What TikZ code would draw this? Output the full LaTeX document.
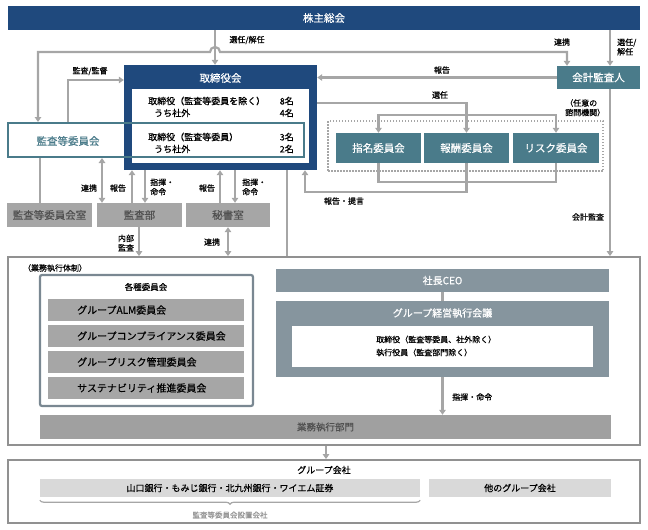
\documentclass[tikz,border=0pt]{standalone}
\usepackage{fontspec}
\setmainfont{Noto Sans CJK JP}[FakeBold=0.6]
\usetikzlibrary{arrows.meta,decorations.pathreplacing}
\definecolor{navy}{RGB}{31,73,125}
\definecolor{tealc}{RGB}{74,123,138}
\definecolor{linegray}{RGB}{166,166,166}
\definecolor{boxgray}{RGB}{166,166,166}
\definecolor{deptgray}{RGB}{160,160,160}
\definecolor{slate}{RGB}{134,149,158}
\definecolor{slateframe}{RGB}{122,136,146}
\definecolor{framegray}{RGB}{145,145,145}
\definecolor{palegray}{RGB}{217,217,217}
\definecolor{darktext}{RGB}{80,80,80}
\begin{document}
\begin{tikzpicture}[
    x=1pt, y=-1pt,
    >={Triangle[width=6.5pt,length=5pt]},
    conn/.style={draw=linegray, line width=2.2pt},
    lbl/.style={font=\fontsize{8}{9.5}\selectfont, inner sep=0pt, align=left},
    txt/.style={font=\fontsize{9}{11}\selectfont, inner sep=0pt},
    solid box/.style={rectangle, fill=#1, inner sep=0pt, text=white, font=\fontsize{10.5}{12}\selectfont},
    graybox/.style={rectangle, fill=boxgray, inner sep=0pt, text=darktext, font=\fontsize{10.5}{12}\selectfont, minimum height=24pt},
    cmtbar/.style={rectangle, fill=boxgray, inner sep=0pt, minimum width=196pt, minimum height=22pt},
    frame/.style={rectangle, draw=framegray, line width=1.8pt, inner sep=0pt}
]
\useasboundingbox (0,0) rectangle (648,530);

% shareholders, board and audit committee
\node[solid box=navy, minimum width=632pt, minimum height=24pt] (share) at (324,18) {株主総会};
\fill[white] (8,123) rectangle (124,157);
\node[solid box=navy, minimum width=193pt, minimum height=105pt] (board) at (220.5,117.5) {};
\node[rectangle, fill=white, minimum width=177pt, minimum height=74pt] (boardin) at (220.5,126) {};
\node[text=white, font=\fontsize{10.5}{12}\selectfont, inner sep=0pt] (boardt) at (220.5,78) {取締役会};
\node[rectangle, draw=tealc, line width=2pt, minimum width=296pt, minimum height=34pt, inner sep=0pt] (acb) at (156,140) {};
\node[text=tealc, font=\fontsize{10.5}{12}\selectfont, inner sep=0pt] (acbt) at (68,141) {監査等委員会};

\node[txt, anchor=west] (d1) at (148,101) {取締役（監査等委員を除く）};
\node[txt, anchor=west] (d1o) at (154,113) {うち社外};
\node[txt, anchor=east] (d1n) at (294,101) {8名};
\node[txt, anchor=east] (d1on) at (294,113) {4名};
\node[txt, anchor=west] (d2) at (148,137) {取締役（監査等委員）};
\node[txt, anchor=west] (d2o) at (154,149) {うち社外};
\node[txt, anchor=east] (d2n) at (294,137) {3名};
\node[txt, anchor=east] (d2on) at (294,149) {2名};

\node[solid box=tealc, minimum width=83pt, minimum height=23pt] (auditor) at (598.5,77.5) {会計監査人};

% advisory committees
\node[rectangle, draw=linegray, line width=1.5pt, dash pattern=on 1.5pt off 1.5pt, minimum width=275pt, minimum height=50pt] (advisory) at (465.5,146) {};
\node[lbl, anchor=north west] (optlbl) at (565,99) {（任意の\\諮問機関）};
\node[solid box=tealc, minimum width=85pt, minimum height=30pt] (nom) at (378.5,148) {指名委員会};
\node[solid box=tealc, minimum width=85pt, minimum height=30pt] (rem) at (466.5,148) {報酬委員会};
\node[solid box=tealc, minimum width=86pt, minimum height=30pt] (risk) at (556,148) {リスク委員会};

% staff offices
\node[graybox, minimum width=85pt] (room) at (49.5,215) {監査等委員会室};
\node[graybox, minimum width=85pt] (audit) at (139.5,215) {監査部};
\node[graybox, minimum width=84pt] (secr) at (228,215) {秘書室};

% execution
\node[frame, minimum width=632pt, minimum height=188pt] (exec) at (324,351) {};
\node[lbl] (execlbl) at (55,268) {（業務執行体制）};
\node[rectangle, draw=slateframe, line width=2.2pt, rounded corners=2pt, minimum width=213pt, minimum height=131pt] (cmtf) at (146.5,340.5) {};
\node[font=\fontsize{8.5}{10}\selectfont, inner sep=0pt] (cmtt) at (146,287) {各種委員会};
\node[cmtbar] (c1) at (146,310) {};
\node[cmtbar] (c2) at (146,336) {};
\node[cmtbar] (c3) at (146,362) {};
\node[cmtbar] (c4) at (146,388) {};
\node[font=\fontsize{10}{11}\selectfont, inner sep=0pt, anchor=west] at (77,310) {グループALM委員会};
\node[font=\fontsize{10}{11}\selectfont, inner sep=0pt, anchor=west] at (77,336) {グループコンプライアンス委員会};
\node[font=\fontsize{10}{11}\selectfont, inner sep=0pt, anchor=west] at (77,362) {グループリスク管理委員会};
\node[font=\fontsize{10}{11}\selectfont, inner sep=0pt, anchor=west] at (77,388) {サステナビリティ推進委員会};

\node[solid box=slate, minimum width=333pt, minimum height=23pt, font=\fontsize{10}{11}\selectfont] (ceo) at (442.5,280.5) {社長CEO};
\node[solid box=slate, minimum width=333pt, minimum height=76pt] (gm) at (442.5,339) {};
\node[text=white, font=\fontsize{10}{11}\selectfont, inner sep=0pt] (gmt) at (442.5,313) {グループ経営執行会議};
\node[rectangle, fill=white, minimum width=301pt, minimum height=41pt] (gmin) at (442.5,346.5) {};
\node[font=\fontsize{8}{13}\selectfont, inner sep=0pt, align=left, anchor=west] (gmtxt) at (376,346) {取締役（監査等委員、社外除く）\\執行役員（監査部門除く）};

\node[rectangle, fill=deptgray, inner sep=0pt, minimum width=571pt, minimum height=24pt, text=darktext, font=\fontsize{9.5}{11}\selectfont] (dept) at (325.5,427) {業務執行部門};

% group companies
\node[frame, minimum width=632pt, minimum height=63pt] (grp) at (324,491.5) {};
\node[font=\fontsize{9}{11}\selectfont, inner sep=0pt] (grpt) at (324,470) {グループ会社};
\node[rectangle, fill=palegray, inner sep=0pt, minimum width=380pt, minimum height=18pt, font=\fontsize{9}{11}\selectfont] (yb) at (230,488) {山口銀行・もみじ銀行・北九州銀行・ワイエム証券};
\node[rectangle, fill=palegray, inner sep=0pt, minimum width=182pt, minimum height=18pt, font=\fontsize{9}{11}\selectfont] (other) at (520,488) {他のグループ会社};
\draw[linegray, line width=1.2pt, decorate, decoration={brace, mirror, amplitude=4pt}] ([yshift=-3pt]yb.south west) -- ([yshift=-3pt]yb.south east);
\node[font=\fontsize{7.5}{9}\selectfont, inner sep=0pt, text=linegray!90!black] (ybl) at (230,515) {監査等委員会設置会社};

% connectors
\draw[conn,->] (215,0 |- share.south) -- (215,0 |- board.north);
\node[lbl] at (247,40) {選任/解任};
\draw[conn,<->] (38,0 |- acb.north) -- (38,52) -- (210,52) arc[start angle=180, end angle=0, radius=5pt] -- (567,52) -- (567,0 |- auditor.north);
\node[lbl] at (562,42) {連携};
\draw[conn,->] (610,0 |- share.south) -- (610,0 |- auditor.north);
\node[lbl, anchor=west] at (617,47) {選任/\\解任};
\draw[conn,->] (68,0 |- acb.north) |- (board.west |- 0,80);
\node[lbl] at (90,71) {監査/監督};
\draw[conn,->] (auditor.west) -- (board.east |- auditor.west);
\node[lbl] at (442,70) {報告};

\coordinate (sel) at (466.5,115);
\draw[conn] (board.east |- 0,103) -| (sel);
\draw[conn,->] (sel) -| (nom.north);
\draw[conn,->] (sel) -| (risk.north);
\draw[conn,->] (sel) -- (rem.north);
\node[lbl] at (440,95) {選任};

\coordinate (rep) at (466.5,182);
\draw[conn] (nom.south) |- (rep);
\draw[conn] (risk.south) |- (rep);
\draw[conn,->] (rem.south) -- (466.5,192) -| (305,0 |- board.south);
\node[lbl] at (344,201) {報告・提言};

\draw[conn] (40,0 |- acb.south) -- (40,0 |- room.north);
\draw[conn,<->] (102,0 |- acb.south) -- (102,0 |- audit.north);
\node[lbl] at (89,188) {連携};
\draw[conn,->] (132,0 |- audit.north) -- (132,0 |- board.south);
\node[lbl] at (118,188) {報告};
\draw[conn,->] (145,0 |- board.south) -- (145,0 |- audit.north);
\node[lbl, anchor=west] at (150,187) {指揮・\\命令};
\draw[conn,->] (220,0 |- secr.north) -- (220,0 |- board.south);
\node[lbl] at (207,188) {報告};
\draw[conn,->] (235,0 |- board.south) -- (235,0 |- secr.north);
\node[lbl, anchor=west] at (242,187) {指揮・\\命令};
\draw[conn,->] (139,0 |- audit.south) -- (139,0 |- exec.north);
\node[lbl] at (126,243) {内部\\監査};
\draw[conn,<->] (228,0 |- secr.south) -- (228,0 |- exec.north);
\node[lbl] at (212,242) {連携};
\draw[conn] (287,0 |- board.south) -- (287,0 |- exec.north);
\draw[conn,->] (610,0 |- auditor.south) -- (610,0 |- exec.north);
\node[lbl] at (588,217) {会計監査};

\draw[conn] (ceo.south) -- (gm.north);
\draw[conn,->] (gm.south) -- (gm.south |- dept.north);
\node[lbl, anchor=west] at (452,397) {指揮・命令};
\draw[conn,->] (326,0 |- exec.south) -- (326,0 |- grp.north);
\end{tikzpicture}
\end{document}
